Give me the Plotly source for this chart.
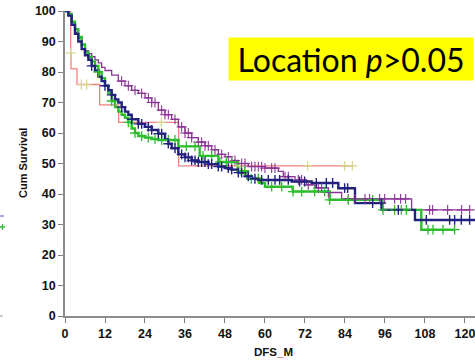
import numpy as np
import plotly.graph_objects as go

# ---------------- data ----------------
red_t = [0, 1.7, 1.8, 3.6, 10.4, 16.1, 34.1]
red_s = [100, 86.2, 81, 75.9, 69.2, 63.5, 49.2]
red_end = 86.5
red_cens = [1.7, 4.9, 6.5, 28.9, 52.4, 72.8, 83.9, 86.2]

purple_t = [0, 1, 2, 3, 4, 5, 6, 7, 8, 9, 10, 11, 12, 14, 16, 18, 20, 22, 24, 26, 28, 30, 32,
            34, 36, 38, 40, 42, 44, 46, 48, 50, 52, 55, 60, 64, 65.5, 69, 72.5, 75, 79, 83, 104]
purple_s = [100, 98.5, 95.5, 93, 91, 89, 87, 86, 85, 84, 83, 81.5, 80.5, 79, 77, 75.5, 74, 73, 71.5,
            70, 67.5, 66, 64.5, 62, 60, 58.5, 57, 55.8, 54.5, 53, 52.2, 51, 50, 49, 48.5, 47.4, 45.7,
            44.6, 43, 42, 40.5, 38.4, 34.8]
purple_end = 121.4
purple_cens = [17, 19, 21, 23, 25, 26, 27, 29, 30, 31, 33, 35, 36, 37, 38, 40, 41, 42, 43, 45, 47,
               49, 51, 53, 54, 56, 57, 58, 59, 60, 62, 63, 66, 67, 70, 71, 73, 76, 77, 79, 85, 87,
               90, 91.4, 94.4, 95.9, 98.9, 100.7, 102.2, 109.4, 110.3, 114.8, 119, 121.4]

navy_t = [0, 1, 2, 3, 4, 5, 6, 7, 8, 9, 10, 11, 12, 13, 14, 15, 16, 17, 18, 19, 20, 22, 24, 26, 28,
          30, 31, 32, 34, 36, 38, 40, 43, 46, 48, 50, 52, 54, 56, 58, 68, 74, 82, 87, 95, 105]
navy_s = [100, 98.5, 95.5, 92.5, 90, 87.5, 85.5, 84, 82, 80.5, 78.5, 77, 75.5, 74, 72.5, 71, 70,
          68.5, 67, 66, 64.5, 63, 62, 61, 59.8, 58, 56.5, 55, 53, 52, 51, 50.5, 49.8, 49, 48.5, 48,
          47, 45.8, 45, 44.6, 44.1, 43.6, 41.9, 37, 34.8, 31.5]
navy_end = 124
navy_cens = [8, 12, 14, 17, 20, 22, 23, 25, 26, 28, 29, 31, 33, 35, 36, 37, 38, 39, 40, 41, 42, 43,
             44, 46, 47, 49, 50, 52, 53, 55, 57, 59, 61, 63, 64.4, 67, 70.4, 71.9, 75.4, 78.4, 80.3,
             83.9, 84.8, 92.3, 94.9, 100, 108.4, 115.4, 116.9, 118.9, 121.4]

green_t = [0, 1, 2, 3, 4, 5, 6, 7, 8, 9, 10, 11, 12, 13, 14, 15, 16, 17, 18, 19, 20, 21, 22, 24,
           26, 28, 34, 40.4, 46, 51.8, 54.8, 58.4, 60, 68.3, 79.4, 95.3, 106.9]
green_s = [100, 99, 96.5, 94, 91.5, 89, 86.5, 85, 83.5, 82, 80, 78, 75.5, 73, 70.5, 68.5, 67, 66,
           65, 63.5, 61.5, 60, 59, 58.5, 58, 57.7, 55.6, 52.5, 50.5, 47.5, 45, 43.6, 42.4, 40.8,
           38.1, 34.8, 28.3]
green_end = 116.9
green_cens = [10, 14, 19, 21, 23, 25, 27, 29, 31, 33, 36.4, 39, 41.4, 44, 46.5, 48.4, 50, 52.9,
              53.9, 55.9, 58, 62, 65, 68.4, 71, 74.9, 77.9, 79.4, 85, 92.3, 95.4, 98.9, 100.9,
              102.4, 108.9, 110.4, 113.4, 116.9]

x_ticks = [0, 12, 24, 36, 48, 60, 72, 84, 96, 108, 120]
y_ticks = [0, 10, 20, 30, 40, 50, 60, 70, 80, 90, 100]

# ---------------- figure ----------------
W, H = 475, 361
ML, MR, MT, MB = 65, 0, 11, 45
PW, PH = W - ML - MR, H - MT - MB


def step_at(ts, ss, x):
    idx = np.searchsorted(np.array(ts), np.array(x), side="right") - 1
    return [ss[i] for i in idx]


series = [
    ("red", red_t, red_s, red_end, red_cens, "#f47f7f", 1.3, "#d6d68c", 1.2),
    ("purple", purple_t, purple_s, purple_end, purple_cens, "#8a3596", 1.3, "#8a3596", 1.1),
    ("green", green_t, green_s, green_end, green_cens, "#2dbd2d", 2.4, "#2dbd2d", 1.3),
    ("navy", navy_t, navy_s, navy_end, navy_cens, "#22227e", 2.4, "#22227e", 1.4),
]

fig = go.Figure()
for name, ts, ss, end, cens, col, lw, ccol, cw in series:
    fig.add_trace(go.Scatter(x=list(ts) + [end], y=list(ss) + [ss[-1]], mode="lines",
                             line=dict(color=col, width=lw, shape="hv"),
                             showlegend=False, hoverinfo="skip"))
for name, ts, ss, end, cens, col, lw, ccol, cw in series:
    fig.add_trace(go.Scatter(x=cens, y=step_at(ts, ss, cens), mode="markers",
                             marker=dict(symbol="cross-thin", size=7, color=ccol,
                                         line=dict(color=ccol, width=cw)),
                             showlegend=False, hoverinfo="skip", cliponaxis=False))

axis_font = dict(family="Liberation Sans, Arial, sans-serif", size=12.5, color="#111111",
                 weight="bold")

fig.update_layout(
    width=W, height=H,
    margin=dict(l=ML, r=MR, t=MT, b=MB, pad=0),
    paper_bgcolor="white", plot_bgcolor="white",
    xaxis=dict(range=[0, PW / 3.333], tickvals=x_ticks, ticks="outside", ticklen=5,
               tickwidth=1.2, tickcolor="#7f7f7f", showline=True, linecolor="#8c8c8c",
               linewidth=1.5, showgrid=False, zeroline=False, tickfont=axis_font,
               ticklabeloverflow="allow"),
    yaxis=dict(range=[0, 100], tickvals=y_ticks, ticks="outside", ticklen=5, tickwidth=1.2,
               tickcolor="#7f7f7f", showline=True, linecolor="#8c8c8c", linewidth=1.5,
               showgrid=False, zeroline=False, tickfont=axis_font,
               ticklabeloverflow="allow"),
    annotations=[
        dict(text="Cum Survival", xref="paper", yref="paper", x=-(ML - 23) / PW,
             y=(H - MB - 163) / PH, textangle=-90, showarrow=False, xanchor="center",
             yanchor="middle",
             font=dict(family="Liberation Sans, Arial, sans-serif", size=11, color="#111111",
                       weight="bold")),
        dict(text="DFS_M", xref="paper", yref="paper", x=(273 - ML) / PW,
             y=-(352 - (H - MB)) / PH, showarrow=False, xanchor="center", yanchor="middle",
             font=dict(family="Liberation Sans, Arial, sans-serif", size=11.5, color="#111111",
                       weight="bold")),
        dict(text="Location <i>p</i>>0.05", xref="paper", yref="paper",
             x=(228 - ML) / PW, y=(H - MB - 37) / PH, xanchor="left", yanchor="top",
             showarrow=False, bgcolor="#ffff00", width=244, height=42, borderpad=0,
             font=dict(family="Lato, sans-serif", size=32, color="black")),
    ],
    shapes=[
        dict(type="line", xref="paper", yref="paper", x0=-ML / PW, x1=-(ML - 4) / PW,
             y0=(H - MB - 216) / PH, y1=(H - MB - 216) / PH,
             line=dict(color="#6a50b0", width=1)),
        dict(type="line", xref="paper", yref="paper", x0=-ML / PW, x1=-(ML - 5) / PW,
             y0=(H - MB - 227) / PH, y1=(H - MB - 227) / PH,
             line=dict(color="#2dbd2d", width=1.5)),
        dict(type="line", xref="paper", yref="paper", x0=-(ML - 2.5) / PW, x1=-(ML - 2.5) / PW,
             y0=(H - MB - 224) / PH, y1=(H - MB - 230) / PH,
             line=dict(color="#2dbd2d", width=1.2)),
        dict(type="line", xref="paper", yref="paper", x0=-ML / PW, x1=-(ML - 3) / PW,
             y0=0, y1=0, line=dict(color="#9a9a9a", width=1)),
    ],
)

fig.write_html("out.html")
